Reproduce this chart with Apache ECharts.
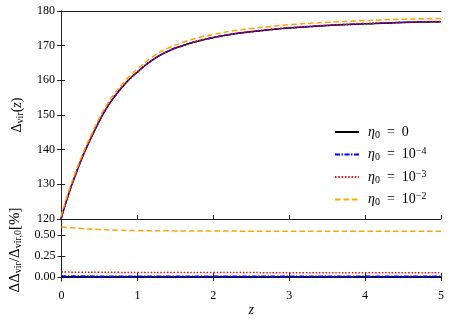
<!DOCTYPE html>
<html>
<head>
<meta charset="utf-8">
<script src="https://cdn.jsdelivr.net/npm/echarts@6/dist/echarts.min.js"></script>
<style>
  html, body { margin: 0; padding: 0; background: #fff; }
  #chart { width: 451px; height: 321px; }
</style>
</head>
<body>
<div id="chart"></div>
<script>
// top panel: Delta_vir(z)
var zTop = [0, 0.1, 0.2, 0.3, 0.4, 0.5, 0.6, 0.7, 0.8, 0.9, 1.0, 1.2, 1.4, 1.6, 1.8, 2.0, 2.25, 2.5, 2.75, 3.0, 3.5, 4.0, 4.5, 5.0];
var dvirEta0 = [120.0, 127.2, 133.3, 138.8, 143.6, 148.1, 152.0, 155.2, 157.9, 160.3, 162.3, 165.8, 168.3, 170.0, 171.3, 172.3, 173.3, 174.0, 174.6, 175.1, 175.8, 176.3, 176.7, 176.9];
var dvirEta4 = [120.01, 127.21, 133.31, 138.81, 143.61, 148.11, 152.01, 155.21, 157.91, 160.31, 162.31, 165.81, 168.31, 170.01, 171.31, 172.31, 173.31, 174.01, 174.61, 175.11, 175.81, 176.31, 176.71, 176.91];
var dvirEta3 = [120.07, 127.27, 133.38, 138.88, 143.68, 148.18, 152.08, 155.28, 157.98, 160.38, 162.38, 165.88, 168.39, 170.09, 171.39, 172.39, 173.39, 174.09, 174.69, 175.19, 175.89, 176.39, 176.79, 176.99];
var dvirEta2 = [120.71, 127.94, 134.06, 139.58, 144.40, 148.93, 152.84, 156.05, 158.77, 161.18, 163.19, 166.70, 169.21, 170.92, 172.23, 173.23, 174.24, 174.94, 175.53, 176.03, 176.73, 177.23, 177.64, 177.84];

// bottom panel: relative difference [%]
var zBot = [0, 0.25, 0.5, 0.75, 1.0, 1.5, 2.0, 2.5, 3.0, 4.0, 5.0];
var relEta0 = [0, 0, 0, 0, 0, 0, 0, 0, 0, 0, 0];
var relEta4 = [0.006, 0.006, 0.005, 0.005, 0.005, 0.005, 0.005, 0.005, 0.005, 0.005, 0.005];
var relEta3 = [0.057, 0.055, 0.054, 0.053, 0.052, 0.051, 0.050, 0.050, 0.049, 0.048, 0.048];
var relEta2 = [0.595, 0.577, 0.564, 0.556, 0.552, 0.548, 0.546, 0.545, 0.544, 0.543, 0.543];

var names = ['eta0', 'eta4', 'eta3', 'eta2'];
var legendText = {
  eta0: '{i|η}{sub|0}\u2002=\u20020',
  eta4: '{i|η}{sub|0}\u2002=\u200210{sup|−4}',
  eta3: '{i|η}{sub|0}\u2002=\u200210{sup|−3}',
  eta2: '{i|η}{sub|0}\u2002=\u200210{sup|−2}'
};
var colors = ['#000000', '#0000ff', '#ff0000', '#ffa500'];
var dashes = ['solid', [5, 1.5, 1.5, 1.5], [1.5, 1.8], [5.5, 3]];

var FONT = 'Liberation Serif';
var rich = {
  i: { fontFamily: FONT, fontStyle: 'italic', fontSize: 14, color: '#000' },
  sub: { fontFamily: FONT, fontSize: 10, color: '#000', verticalAlign: 'bottom', padding: [6, 0, 0, 0] },
  sup: { fontFamily: FONT, fontSize: 10, color: '#000', verticalAlign: 'top', padding: [0, 0, 6, 0] }
};

function pairs(xs, ys) {
  var out = [];
  for (var k = 0; k < xs.length; k++) out.push([xs[k], ys[k]]);
  return out;
}

var topData = [dvirEta0, dvirEta4, dvirEta3, dvirEta2];
var botData = [relEta0, relEta4, relEta3, relEta2];
var series = [];
for (var s = 0; s < 4; s++) {
  series.push({
    name: names[s], type: 'line', xAxisIndex: 0, yAxisIndex: 0,
    data: pairs(zTop, topData[s]), smooth: true, symbol: 'none',
    lineStyle: { color: colors[s], width: 1.5, type: dashes[s] },
    itemStyle: { color: colors[s] }, z: 2 + s
  });
}
for (var s2 = 0; s2 < 4; s2++) {
  series.push({
    name: names[s2], type: 'line', xAxisIndex: 2, yAxisIndex: 2,
    data: pairs(zBot, botData[s2]), smooth: true, symbol: 'none',
    lineStyle: { color: colors[s2], width: s2 === 1 ? 2 : 1.5, type: dashes[s2] },
    itemStyle: { color: colors[s2] }, z: 2 + s2
  });
}

var lineCol = '#222';
var tickIn = { show: true, inside: true, length: 4, lineStyle: { color: lineCol } };
var labelStyle = { color: '#000', fontFamily: FONT, fontSize: 12 };

var chart = echarts.init(document.getElementById('chart'));
chart.setOption({
  backgroundColor: '#fff',
  animation: false,
  grid: [
    { left: 61, top: 11, width: 380, height: 208 },
    { left: 61, top: 219, width: 380, height: 62 }
  ],
  legend: {
    data: names,
    orient: 'vertical',
    left: 329, top: 120,
    itemWidth: 24, itemHeight: 14, itemGap: 6.5,
    itemStyle: { opacity: 0 },
    formatter: function (n) { return legendText[n]; },
    textStyle: { fontFamily: FONT, fontSize: 14, color: '#000', padding: [0, 0, 0, 4], rich: rich }
  },
  xAxis: [
    { gridIndex: 0, type: 'value', min: 0, max: 5, interval: 1, position: 'bottom',
      axisLine: { lineStyle: { color: lineCol } }, axisTick: tickIn, axisLabel: { show: false }, splitLine: { show: false } },
    { gridIndex: 0, type: 'value', min: 0, max: 5, interval: 1, position: 'top',
      axisLine: { lineStyle: { color: lineCol } }, axisTick: { show: false }, axisLabel: { show: false }, splitLine: { show: false } },
    { gridIndex: 1, type: 'value', min: 0, max: 5, interval: 1, position: 'bottom',
      name: 'z', nameLocation: 'middle', nameGap: 19,
      nameTextStyle: { fontFamily: FONT, fontStyle: 'italic', fontSize: 14, color: '#000' },
      axisLine: { lineStyle: { color: lineCol } }, axisTick: tickIn,
      axisLabel: Object.assign({ margin: 9 }, labelStyle), splitLine: { show: false } },
    { gridIndex: 1, type: 'value', min: 0, max: 5, interval: 1, position: 'top',
      axisLine: { lineStyle: { color: lineCol } }, axisTick: tickIn, axisLabel: { show: false }, splitLine: { show: false } }
  ],
  yAxis: [
    { gridIndex: 0, type: 'value', min: 120, max: 180, interval: 10, position: 'left',
      name: 'Δ{sub|vir}({i|z})', nameLocation: 'middle', nameGap: 36, nameRotate: 90,
      nameTextStyle: { fontFamily: FONT, fontSize: 14, color: '#000', rich: rich },
      axisLine: { lineStyle: { color: lineCol } }, axisTick: tickIn,
      axisLabel: Object.assign({ margin: 6 }, labelStyle), splitLine: { show: false } },
    { gridIndex: 0, type: 'value', min: 120, max: 180, interval: 10, position: 'right',
      axisLine: { lineStyle: { color: lineCol } }, axisTick: tickIn, axisLabel: { show: false }, splitLine: { show: false } },
    { gridIndex: 1, type: 'value', min: -0.05, max: 0.69, position: 'left',
      name: 'ΔΔ{sub|vir}/Δ{sub|vir,0}[%]', nameLocation: 'middle', nameGap: 38, nameRotate: 90,
      nameTextStyle: { fontFamily: FONT, fontSize: 15, color: '#000', rich: rich },
      axisLine: { lineStyle: { color: lineCol } },
      axisTick: Object.assign({ customValues: [0, 0.25, 0.5] }, tickIn),
      axisLabel: Object.assign({ margin: 6, customValues: [0, 0.25, 0.5],
        formatter: function (v) { return v.toFixed(2); } }, labelStyle),
      splitLine: { show: false } },
    { gridIndex: 1, type: 'value', min: -0.05, max: 0.69, position: 'right',
      axisLine: { lineStyle: { color: lineCol } },
      axisTick: Object.assign({ customValues: [0, 0.25, 0.5] }, tickIn),
      axisLabel: { show: false }, splitLine: { show: false } }
  ],
  series: series
});
</script>
</body>
</html>
